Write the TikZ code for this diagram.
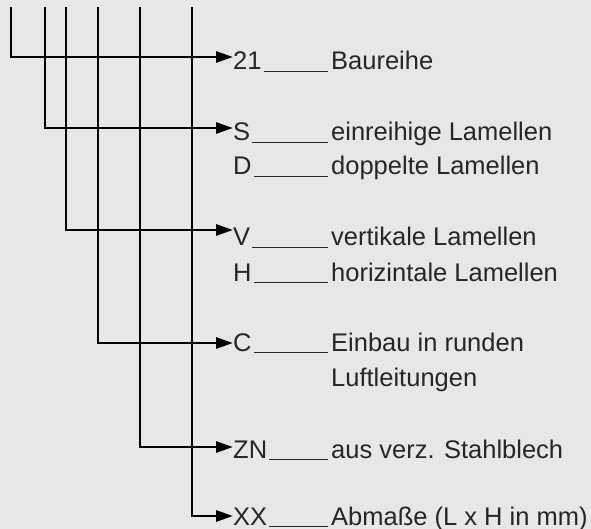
\documentclass[tikz,border=0pt]{standalone}
\usepackage{fontspec}
\setmainfont{Liberation Sans}
\usetikzlibrary{arrows.meta}
\definecolor{bg}{RGB}{230,231,233}
\definecolor{txt}{RGB}{38,38,40}
\definecolor{ul}{RGB}{40,40,42}
\tikzset{
  conn/.style={line width=2.8pt,draw=black,-{Triangle[length=17pt,width=11pt]}},
  txtnode/.style={anchor=base west,inner sep=0pt,text=txt,font=\fontsize{25.5}{30}\selectfont},
  uline/.style={line width=1.4pt,draw=ul},
}
\begin{document}
\begin{tikzpicture}[x=1pt,y=-1pt]
\fill[bg] (0,0) rectangle (591,529);
\useasboundingbox (0,0) rectangle (591,529);
% codes
\node[txtnode] (c1) at (233,70) {21};
\node[txtnode] (c2) at (233,141) {S};
\node[txtnode] (c3) at (233,175) {D};
\node[txtnode] (c4) at (233,246) {V};
\node[txtnode] (c5) at (233,281) {H};
\node[txtnode] (c6) at (233,351) {C};
\node[txtnode] (c7) at (233,458) {ZN};
\node[txtnode] (c8) at (233,525) {XX};
% descriptions
\node[txtnode] (d1) at (331,70) {Baureihe};
\node[txtnode] (d2) at (331,141) {einreihige Lamellen};
\node[txtnode] (d3) at (331,175) {doppelte Lamellen};
\node[txtnode] (d4) at (331,246) {vertikale Lamellen};
\node[txtnode] (d5) at (331,281) {horizintale Lamellen};
\node[txtnode] (d6) at (331,351) {Einbau in runden};
\node[txtnode] (d6b) at (331,386) {Luftleitungen};
\node[txtnode] (d7) at (331,458) {aus verz. Stahlblech};
\node[txtnode] (d8) at (331,525) {Abmaße (L x H in mm)};
% underlines
\foreach \i in {1,...,8}{
  \draw[uline] ([xshift=2pt,yshift=-1.5pt]c\i.base east) -- ([xshift=-3pt,yshift=-1.5pt]d\i.base west);
}
% line tops and arrow targets
\coordinate (t1) at (11,7);
\coordinate (t2) at (45,7);
\coordinate (t3) at (66,7);
\coordinate (t4) at (98,7);
\coordinate (t5) at (140,7);
\coordinate (t6) at (192,7);
\coordinate (a1) at (233,57);
\coordinate (a2) at (233,128);
\coordinate (a3) at (233,230);
\coordinate (a4) at (233,343);
\coordinate (a5) at (233,447);
\coordinate (a6) at (233,516);
\foreach \i in {1,...,6}{
  \draw[conn] (t\i) |- (a\i);
}
\end{tikzpicture}
\end{document}
